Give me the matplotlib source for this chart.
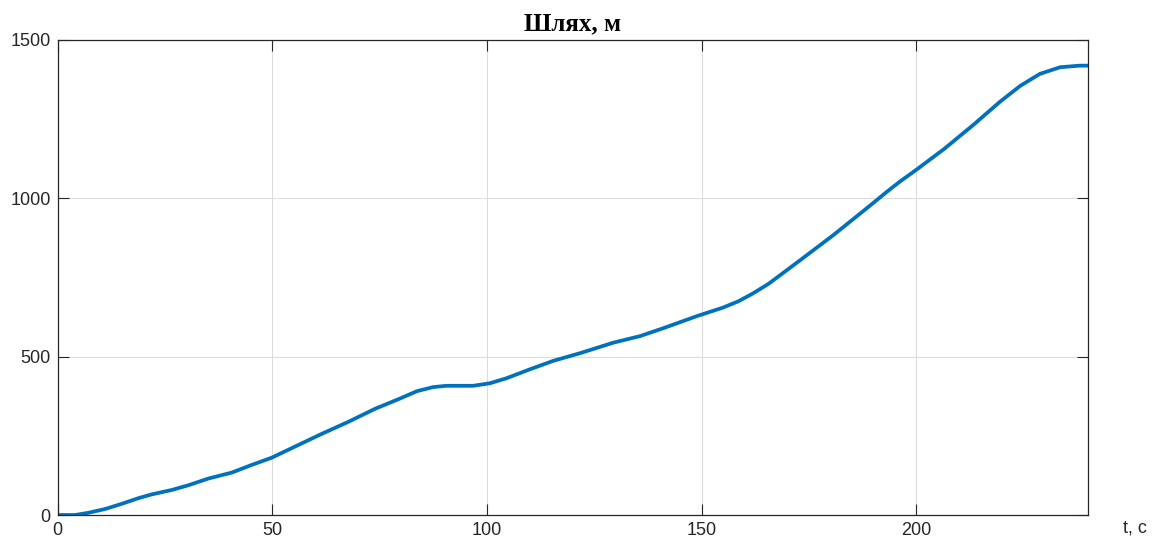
import matplotlib
matplotlib.use("Agg")
import matplotlib.pyplot as plt

t = [0, 4.1, 7.2, 11.1, 14.9, 18.8, 21.9, 26.6, 30.5, 35.1, 40.6, 45.2, 49.9, 55.3,
     61.5, 67.7, 73.9, 79.8, 83.7, 87.5, 90.6, 96.8, 100.7, 104.6, 110.0, 115.5, 121.7,
     129.4, 135.7, 141.1, 148.9, 155.0, 158.6, 162.0, 165.6, 173.0, 180.7, 188.5, 193.1,
     196.2, 200.1, 206.5, 213.3, 219.5, 224.2, 228.8, 233.5, 238.1, 240]
s = [0, 0, 7, 19, 35, 53, 65, 79, 94, 115, 134, 158, 181, 216,
     256, 294, 335, 368, 391, 404, 408, 408, 416, 432, 460, 487, 511,
     544, 565, 590, 628, 655, 675, 700, 730, 805, 884, 969, 1020,
     1053, 1091, 1156, 1232, 1305, 1355, 1393, 1414, 1419, 1419]

xticks = [0, 50, 100, 150, 200]
yticks = [0, 500, 1000, 1500]
title = "Шлях, м"
xlabel = "t, c"

plt.rcParams['font.family'] = ['Liberation Sans', 'DejaVu Sans']

fig = plt.figure(figsize=(11.71, 5.46), dpi=100)
ax = fig.add_axes([57.5/1171, 31/546, (1088-57.5)/1171, 475/546])
ax.plot(t, s, color='#0072BD', lw=2.7, solid_joinstyle='round', solid_capstyle='butt')
ax.set_xlim(0, 240)
ax.set_ylim(0, 1500)
ax.set_xticks(xticks)
ax.set_yticks(yticks)
ax.grid(True, color='#dcdcdc', lw=0.8)
ax.set_axisbelow(True)
ax.tick_params(direction='in', length=8, width=0.8, top=True, right=True,
               labelsize=13, labelcolor='#262626', color='#262626', pad=5)
for sp in ax.spines.values():
    sp.set_color('#262626')
    sp.set_linewidth(0.9)
ax.set_title(title, fontsize=18, fontweight='bold', family=['Liberation Serif', 'DejaVu Serif'], pad=7)
fig.text(1135/1171, 1 - 528/546, xlabel, fontsize=13, color='#262626', ha='center', va='center')
fig.savefig('out.png', dpi=100)
